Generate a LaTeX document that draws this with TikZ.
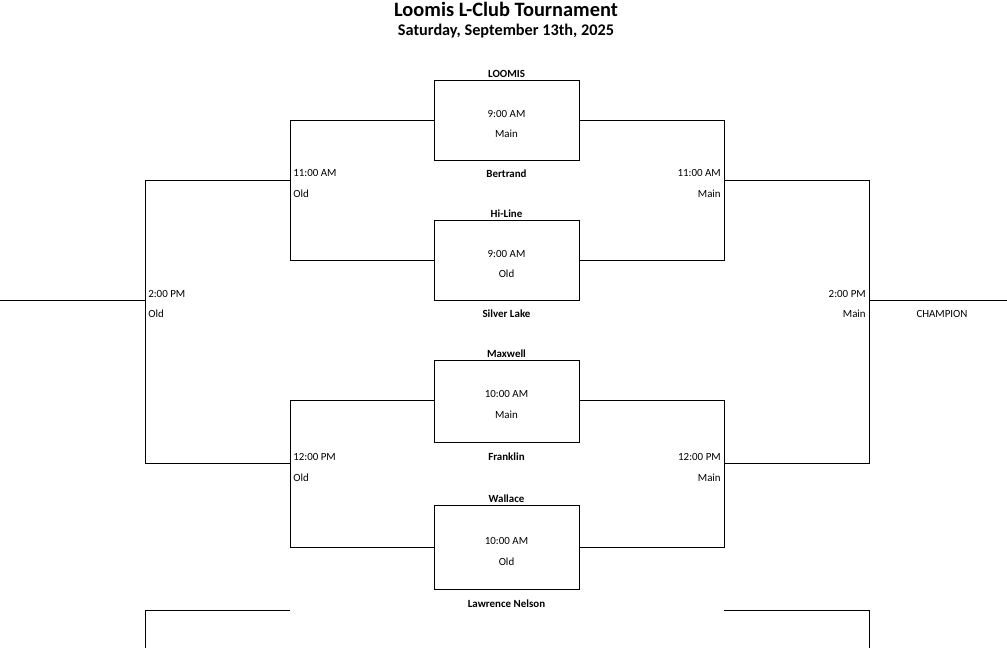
\documentclass[tikz,border=0pt]{standalone}
\usepackage{fontspec}
\setmainfont{Carlito}
\begin{document}
\begin{tikzpicture}[x=0.75pt,y=-0.75pt,
  ln/.style={draw=black,line width=0.6pt},
  sm/.style={font=\fontsize{8.2}{9}\selectfont,inner sep=0pt},
  smb/.style={sm,font=\fontsize{8.2}{9}\selectfont\bfseries},
  gbox/.style={draw=black,line width=0.6pt,minimum width=145*0.75pt,inner sep=0pt}]
\useasboundingbox (0,0) rectangle (1007,648);
\node[font=\fontsize{15.3}{17}\selectfont\bfseries] (title) at (506,9) {Loomis L-Club Tournament};
\node[font=\fontsize{12.2}{14}\selectfont\bfseries] (sub) at (506,31) {Saturday, September 13th, 2025};
% boxes
\node[gbox,minimum height=80*0.75pt] (b1) at (506.5,120) {};
\node[gbox,minimum height=80*0.75pt] (b2) at (506.5,260) {};
\node[gbox,minimum height=82*0.75pt] (b3) at (506.5,401) {};
\node[gbox,minimum height=84*0.75pt] (b4) at (506.5,547) {};
\node[sm] (t1a) at (506.5,114) {9:00 AM}; \node[sm] (t1b) at (506.5,134) {Main};
\node[sm] (t2a) at (506.5,254) {9:00 AM}; \node[sm] (t2b) at (506.5,274) {Old};
\node[sm] (t3a) at (506.5,394) {10:00 AM}; \node[sm] (t3b) at (506.5,415) {Main};
\node[sm] (t4a) at (506.5,541) {10:00 AM}; \node[sm] (t4b) at (506.5,562) {Old};
\node[smb] (n1) at (506.5,74) {LOOMIS};
\node[smb] (n2) at (506.5,174) {Bertrand};
\node[smb] (n3) at (506.5,214) {Hi-Line};
\node[smb] (n4) at (506.5,314) {Silver Lake};
\node[smb] (n5) at (506.5,354) {Maxwell};
\node[smb] (n6) at (506.5,457) {Franklin};
\node[smb] (n7) at (506.5,499) {Wallace};
\node[smb] (n8) at (506.5,604) {Lawrence Nelson};
% coordinates
\coordinate (l1) at (290,120); \coordinate (l2) at (290,260);
\coordinate (l3) at (290,400); \coordinate (l4) at (290,547);
\coordinate (r1) at (724,120); \coordinate (r2) at (724,260);
\coordinate (r3) at (724,400); \coordinate (r4) at (724,547);
\draw[ln] (b1.west|-l1) -- (l1) -- (l2) -- (b2.west|-l2);
\draw[ln] (b1.east|-r1) -- (r1) -- (r2) -- (b2.east|-r2);
\draw[ln] (b3.west|-l3) -- (l3) -- (l4) -- (b4.west|-l4);
\draw[ln] (b3.east|-r3) -- (r3) -- (r4) -- (b4.east|-r4);
\coordinate (lo1) at (145,180); \coordinate (lo2) at (145,463);
\coordinate (ro1) at (869,180); \coordinate (ro2) at (869,463);
\draw[ln] (290,180) -- (lo1) -- (lo2) -- (290,463);
\draw[ln] (724,180) -- (ro1) -- (ro2) -- (724,463);
\draw[ln] (0,300) -- (145,300);
\draw[ln] (869,300) -- (1007,300);
\draw[ln] (290,610) -- (145,610) -- (145,648);
\draw[ln] (724,610) -- (869,610) -- (869,648);
% labels
\node[sm,anchor=west] (a1) at (293,173) {11:00 AM}; \node[sm,anchor=west] (a2) at (293,194) {Old};
\node[sm,anchor=east] (a3) at (721,173) {11:00 AM}; \node[sm,anchor=east] (a4) at (721,194) {Main};
\node[sm,anchor=west] (a5) at (293,457) {12:00 PM}; \node[sm,anchor=west] (a6) at (293,478) {Old};
\node[sm,anchor=east] (a7) at (721,457) {12:00 PM}; \node[sm,anchor=east] (a8) at (721,478) {Main};
\node[sm,anchor=west] (a9) at (148,294) {2:00 PM}; \node[sm,anchor=west] (a10) at (148,314) {Old};
\node[sm,anchor=east] (a11) at (866,294) {2:00 PM}; \node[sm,anchor=east] (a12) at (866,314) {Main};
\node[sm] (ch) at (942,314) {CHAMPION};
\end{tikzpicture}
\end{document}
